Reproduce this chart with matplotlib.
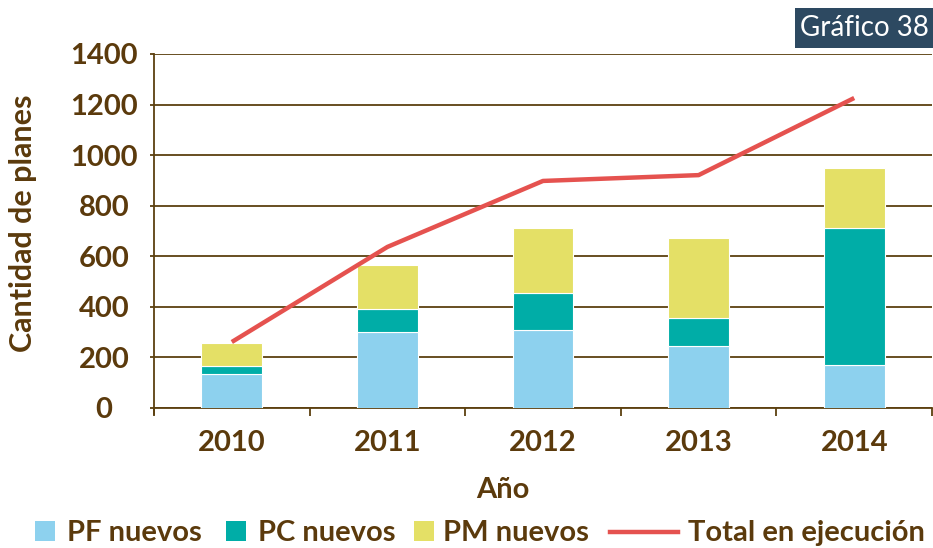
import matplotlib
matplotlib.use("Agg")
import matplotlib.pyplot as plt
from matplotlib.patches import Rectangle
from matplotlib.lines import Line2D

years = ["2010", "2011", "2012", "2013", "2014"]
pf_nuevos = [134, 300, 308, 245, 170]
pc_nuevos = [32, 91, 147, 111, 542]
pm_nuevos = [91, 174, 257, 316, 237]
total_ejecucion = [261, 637, 898, 921, 1226]
y_ticks = [0, 200, 400, 600, 800, 1000, 1200, 1400]

BROWN = "#5B3A0C"
GRID = "#5C400F"
C_PF = "#8DD1EE"
C_PC = "#00ADA7"
C_PM = "#E4E066"
C_LINE = "#E5524F"

plt.rcParams["font.family"] = ["Lato", "DejaVu Sans"]

W, H = 933.0, 548.0
fig = plt.figure(figsize=(W / 100, H / 100), dpi=100)
ax = fig.add_axes([154 / W, 1 - 408 / H, 778 / W, 354 / H])

x = list(range(len(years)))
w = 0.39
ax.bar(x, pf_nuevos, w, color=C_PF, edgecolor="white", linewidth=0.8, zorder=3)
ax.bar(x, pc_nuevos, w, bottom=pf_nuevos, color=C_PC, edgecolor="white",
       linewidth=0.8, zorder=3)
stack2 = [a + b for a, b in zip(pf_nuevos, pc_nuevos)]
ax.bar(x, pm_nuevos, w, bottom=stack2, color=C_PM, edgecolor="white",
       linewidth=0.8, zorder=3)
ax.plot(x, total_ejecucion, color=C_LINE, linewidth=3.2, zorder=4,
        solid_capstyle="butt")

ax.set_xlim(-0.5, len(years) - 0.5)
ax.set_ylim(0, 1400)
ax.set_yticks(y_ticks)
ax.set_yticklabels([str(v) for v in y_ticks])
ax.yaxis.grid(True, color=GRID, linewidth=1.3, zorder=1)
ax.set_axisbelow(True)

ax.set_xticks(x)
ax.set_xticklabels(years)
ax.set_xticks([i - 0.5 for i in range(len(years) + 1)], minor=True)
ax.tick_params(axis="x", which="major", length=0, pad=16,
               labelsize=21, labelcolor=BROWN)
ax.tick_params(axis="x", which="minor", length=6, width=1.3, color=GRID,
               direction="out")
ax.tick_params(axis="y", length=3, width=1.3, color=GRID, pad=33,
               labelsize=21, labelcolor=BROWN)
for lab in ax.get_xticklabels() + ax.get_yticklabels():
    lab.set_fontweight("bold")
for lab in ax.get_yticklabels():
    lab.set_horizontalalignment("center")

for s in ["top", "right"]:
    ax.spines[s].set_visible(False)
for s in ["left", "bottom"]:
    ax.spines[s].set_color(GRID)
    ax.spines[s].set_linewidth(1.3)
ax.spines["left"].set_bounds(-25, 1400)
ax.set_ylim(0, 1400)

ax.set_ylabel("Cantidad de planes", fontsize=22, fontweight="bold", color=BROWN)
ax.yaxis.set_label_coords((23 - 154) / 778, (408 - 223) / 354)
ax.yaxis.label.set_verticalalignment("center")
ax.set_xlabel("Año", fontsize=21, fontweight="bold", color=BROWN)
ax.xaxis.set_label_coords((503 - 154) / 778, (408 - 490) / 354)
ax.xaxis.label.set_verticalalignment("center")

# title badge
fig.patches.append(Rectangle((795 / W, 1 - 48 / H), 138 / W, 40 / H,
                             transform=fig.transFigure, facecolor="#2D4961",
                             edgecolor="none", zorder=5))
fig.text(864 / W, 1 - 28 / H, "Gráfico 38", color="white", fontsize=20,
         ha="center", va="center", zorder=6)

# legend row
def fx(px):
    return px / W

def fy(py):
    return 1 - py / H

base = 541
items = [
    ("patch", C_PF, 35, "PF nuevos", 67),
    ("patch", C_PC, 226, "PC nuevos", 258),
    ("patch", C_PM, 414, "PM nuevos", 443),
    ("line", C_LINE, 610, "Total en ejecución", 688),
]
for kind, col, px, label, tx in items:
    if kind == "patch":
        fig.patches.append(Rectangle((fx(px), fy(base)), 20 / W, 20 / H,
                                     transform=fig.transFigure, facecolor=col,
                                     edgecolor="none"))
    else:
        fig.lines.append(Line2D([fx(px), fx(px + 68)],
                                [fy(base - 9), fy(base - 9)],
                                transform=fig.transFigure, color=col,
                                linewidth=3.2))
    fig.text(fx(tx), fy(base), label, fontsize=21, fontweight="bold",
             color=BROWN, ha="left", va="baseline")

fig.savefig("out.png", dpi=100, facecolor="white")
